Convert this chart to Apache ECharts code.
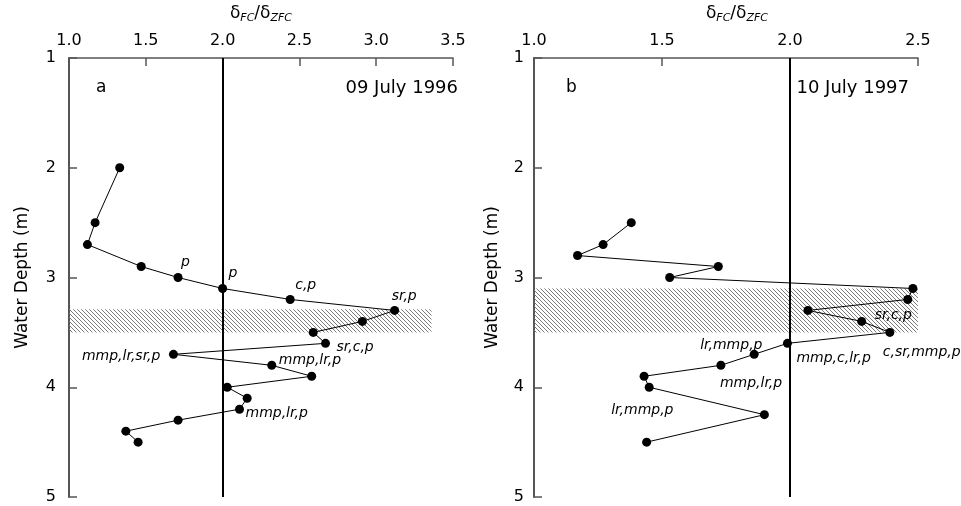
<!DOCTYPE html>
<html>
<head>
<meta charset="utf-8">
<script src="https://cdn.jsdelivr.net/npm/echarts@6/dist/echarts.min.js"></script>
<style>
  html, body { margin: 0; padding: 0; background: #fff; }
  #chart { width: 961px; height: 506px; }
</style>
</head>
<body>
<div id="chart"></div>
<script>
// panel a: 09 July 1996
const aRatio = [1.33, 1.17, 1.12, 1.47, 1.71, 2.00, 2.44, 3.12, 2.91, 2.59, 2.67, 1.68, 2.32, 2.58, 2.03, 2.16, 2.11, 1.71, 1.37, 1.45];
const aDepth = [2.0, 2.5, 2.7, 2.9, 3.0, 3.1, 3.2, 3.3, 3.4, 3.5, 3.6, 3.7, 3.8, 3.9, 4.0, 4.1, 4.2, 4.3, 4.4, 4.5];
const aNotes = ['', '', '', '', 'p', 'p', 'c,p', 'sr,p', '', '', 'sr,c,p', 'mmp,lr,sr,p', 'mmp,lr,p', '', '', '', 'mmp,lr,p', '', '', ''];
const aBand = [[1.0, 3.29], [3.36, 3.5]];
const aTicks = [1.0, 1.5, 2.0, 2.5, 3.0, 3.5];

// panel b: 10 July 1997
const bRatio = [1.38, 1.27, 1.17, 1.72, 1.53, 2.48, 2.46, 2.07, 2.28, 2.39, 1.99, 1.86, 1.73, 1.43, 1.45, 1.90, 1.44];
const bDepth = [2.5, 2.7, 2.8, 2.9, 3.0, 3.1, 3.2, 3.3, 3.4, 3.5, 3.6, 3.7, 3.8, 3.9, 4.0, 4.25, 4.5];
const bNotes = ['', '', '', '', '', '', '', '', 'sr,c,p', 'c,sr,mmp,p', 'mmp,c,lr,p', 'lr,mmp,p', 'mmp,lr,p', '', 'lr,mmp,p', '', ''];
const bBand = [[1.0, 3.1], [2.5, 3.5]];
const bTicks = [1.0, 1.5, 2.0, 2.5];

const depthTicks = [1, 2, 3, 4, 5];
const refRatio = 2.0;

// label offsets from the point (left edge / right edge of text, text middle)
const aOff = {4: [3, -15], 5: [6, -15], 6: [5, -14], 7: [-3, -14], 10: [11, 4], 11: [-13, 2, 'right'], 12: [7, -5], 16: [6, 4]};
const bOff = {8: [13, -6], 9: [-7, 20], 10: [9, 15], 11: [-54, -9], 12: [-1, 18], 14: [-38, 23]};

const font = 'DejaVu Sans';
const axisGray = '#555';

function hatch() {
  const c = document.createElement('canvas');
  c.width = 4; c.height = 4;
  const ctx = c.getContext('2d');
  ctx.strokeStyle = '#7a7a7a';
  ctx.lineWidth = 1;
  ctx.beginPath();
  ctx.moveTo(-1, -1); ctx.lineTo(5, 5);
  ctx.moveTo(-1, 3); ctx.lineTo(1, 5);
  ctx.moveTo(3, -1); ctx.lineTo(5, 1);
  ctx.stroke();
  return c;
}
const pattern = { image: hatch(), repeat: 'repeat' };

function points(xs, ys, notes, off) {
  return xs.map((x, i) => {
    const item = { value: [x, ys[i]] };
    if (notes[i]) {
      const o = off[i] || [6, 0];
      item.label = {
        show: true,
        formatter: notes[i],
        position: [o[0] + 4.5, o[1] + 4.5],
        align: o[2] || 'left',
        verticalAlign: 'middle',
        fontFamily: font,
        fontStyle: 'italic',
        fontSize: 14,
        color: '#000'
      };
    }
    return item;
  });
}

function xAxisFor(idx, ticks, nameShift) {
  return {
    gridIndex: idx,
    type: 'value',
    position: 'top',
    min: ticks[0],
    max: ticks[ticks.length - 1],
    interval: 0.5,
    name: '{d|δ}{s|FC}{d|/δ}{s|ZFC}',
    nameLocation: 'middle',
    nameGap: 34,
    nameTextStyle: {
      padding: [0, 0, 0, nameShift],
      rich: {
        d: { fontFamily: font, fontSize: 17, color: '#000' },
        s: { fontFamily: font, fontSize: 11, fontStyle: 'italic', color: '#000', padding: [10, 0, 0, 0] }
      }
    },
    axisLine: { show: true, lineStyle: { color: axisGray, width: 1.5 } },
    axisTick: { show: true, inside: true, length: 8, lineStyle: { color: axisGray, width: 1.5 } },
    axisLabel: { fontFamily: font, fontSize: 16, color: '#000', margin: 9, formatter: v => v.toFixed(1) },
    splitLine: { show: false }
  };
}

function yAxisFor(idx, gap, margin) {
  return {
    gridIndex: idx,
    type: 'value',
    inverse: true,
    min: depthTicks[0],
    max: depthTicks[depthTicks.length - 1],
    interval: 1,
    name: 'Water Depth (m)',
    nameLocation: 'middle',
    nameGap: gap,
    nameTextStyle: { fontFamily: font, fontSize: 17, color: '#000' },
    axisLine: { show: true, lineStyle: { color: axisGray, width: 2 } },
    axisTick: { show: true, inside: true, length: 8, lineStyle: { color: axisGray, width: 1.5 } },
    axisLabel: { fontFamily: font, fontSize: 16, color: '#000', margin: margin },
    splitLine: { show: false }
  };
}

function seriesFor(idx, xs, ys, notes, off, band) {
  return {
    type: 'line',
    xAxisIndex: idx,
    yAxisIndex: idx,
    data: points(xs, ys, notes, off),
    symbol: 'circle',
    symbolSize: 9,
    itemStyle: { color: '#000' },
    lineStyle: { color: '#000', width: 1 },
    animation: false,
    markArea: {
      silent: true,
      itemStyle: { color: pattern },
      data: [[{ coord: band[0] }, { coord: band[1] }]]
    },
    markLine: {
      silent: true,
      symbol: 'none',
      label: { show: false },
      lineStyle: { color: '#000', width: 2, type: 'solid' },
      data: [{ xAxis: refRatio }]
    }
  };
}

const chart = echarts.init(document.getElementById('chart'));
chart.setOption({
  backgroundColor: '#fff',
  animation: false,
  grid: [
    { left: 69, top: 57, width: 384, height: 440 },
    { left: 534, top: 57, width: 384, height: 440 }
  ],
  xAxis: [xAxisFor(0, aTicks, 0), xAxisFor(1, bTicks, 22)],
  yAxis: [yAxisFor(0, 38, 13), yAxisFor(1, 33, 10)],
  series: [
    seriesFor(0, aRatio, aDepth, aNotes, aOff, aBand),
    seriesFor(1, bRatio, bDepth, bNotes, bOff, bBand)
  ],
  graphic: [
    { type: 'text', left: 96, top: 79, style: { text: 'a', font: '17px "DejaVu Sans"', fill: '#000' } },
    { type: 'text', right: 961 - 458, top: 79, style: { text: '09 July 1996', font: '18px "DejaVu Sans"', fill: '#000' } },
    { type: 'text', left: 566, top: 79, style: { text: 'b', font: '17px "DejaVu Sans"', fill: '#000' } },
    { type: 'text', right: 961 - 909, top: 79, style: { text: '10 July 1997', font: '18px "DejaVu Sans"', fill: '#000' } }
  ]
});
</script>
</body>
</html>
